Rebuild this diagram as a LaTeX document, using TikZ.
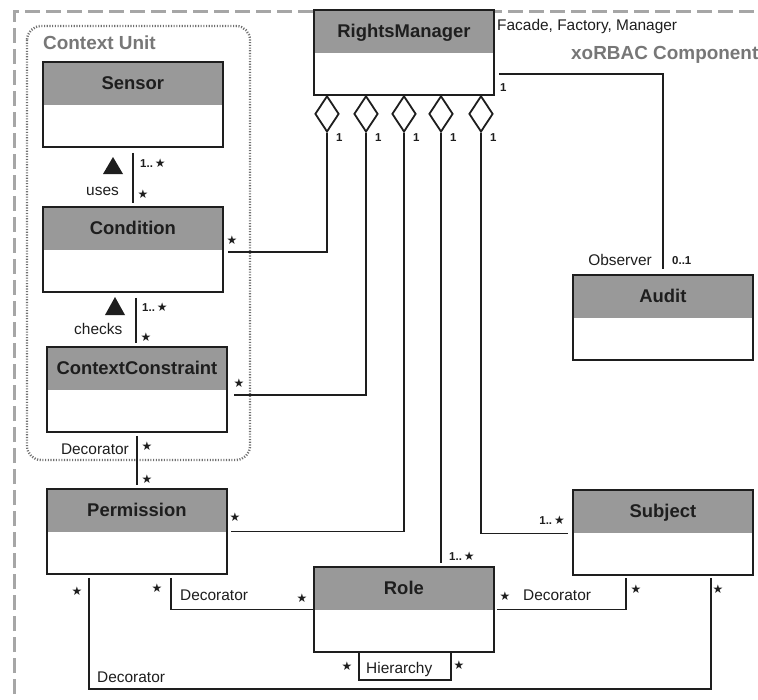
\documentclass[tikz,border=0pt]{standalone}
\usepackage{fontspec}
\setmainfont{Liberation Sans}
\newfontfamily\starfont{DejaVu Sans}
\usetikzlibrary{shapes.geometric}

\definecolor{hdr}{HTML}{999999}
\definecolor{ink}{HTML}{1E1E1E}
\definecolor{framegray}{HTML}{A6A6A6}
\definecolor{dotgray}{HTML}{707070}
\definecolor{labelgray}{HTML}{777777}

\newcommand\mstar{{\starfont\fontsize{12}{12}\selectfont ★}}

\tikzset{
  cls/.style={draw=ink, line width=1.8bp, fill=white, minimum width=180bp,
    minimum height=85bp, inner sep=0, anchor=north west,
    path picture={\fill[hdr] (path picture bounding box.north west)
      rectangle ([yshift=-43bp]path picture bounding box.north east);}},
  ttl/.style={font=\fontsize{18.5}{20}\selectfont\bfseries, text=ink, inner sep=0, anchor=base},
  conn/.style={draw=ink, line width=1.8bp},
  lbl/.style={font=\fontsize{15.5}{17}\selectfont, text=ink, inner sep=0},
  mult/.style={font=\fontsize{11.5}{13}\selectfont\bfseries, text=ink, inner sep=0},
  st/.style={font=\starfont\fontsize{12}{12}\selectfont, text=ink, inner sep=0},
  agg/.style={diamond, draw=ink, line width=1.8bp, fill=white, minimum width=24bp,
    minimum height=36bp, inner sep=0, anchor=north},
  grouplbl/.style={font=\fontsize{19}{21}\selectfont\bfseries, text=labelgray, inner sep=0},
}

\begin{document}
\begin{tikzpicture}[x=1bp,y=-1bp]
\useasboundingbox (0,0) rectangle (758,700);
\clip (0,0) rectangle (758,700);
\fill[white] (0,0) rectangle (758,700);

% component frame and context unit group
\draw[framegray, line width=3bp, dash pattern=on 15bp off 6bp] (14,715) -- (14,12) -- (775,12);
\draw[dotgray, line width=2.4bp, dash pattern=on 1.1bp off 1.6bp, rounded corners=14bp]
  (27,26) rectangle (250,460);
\node[grouplbl, anchor=base west] (cu) at (43,50) {Context Unit};
\node[grouplbl, anchor=base west] (comp) at (571,60) {xoRBAC Component};

% classes
\node[cls] (sensor) at (42,61) {};
\node[ttl] (sensorT) at ([yshift=-28.5bp]sensor.north) {Sensor};
\node[cls] (cond) at (42,206) {};
\node[ttl] (condT) at ([yshift=-28.5bp]cond.north) {Condition};
\node[cls] (cc) at (46,346) {};
\node[ttl] (ccT) at ([yshift=-28.5bp]cc.north) {ContextConstraint};
\node[cls] (perm) at (46,488) {};
\node[ttl] (permT) at ([yshift=-28.5bp]perm.north) {Permission};
\node[cls] (rm) at (313,9) {};
\node[ttl] (rmT) at ([yshift=-28.5bp]rm.north) {RightsManager};
\node[cls] (audit) at (572,274) {};
\node[ttl] (auditT) at ([yshift=-28.5bp]audit.north) {Audit};
\node[cls] (role) at (313,566) {};
\node[ttl] (roleT) at ([yshift=-28.5bp]role.north) {Role};
\node[cls] (subj) at (572,489) {};
\node[ttl] (subjT) at ([yshift=-28.5bp]subj.north) {Subject};

\node[lbl, anchor=base west] (stereo) at (497,31) {Facade, Factory, Manager};

% aggregation diamonds under RightsManager
\node[agg] (d1) at (327,95) {};
\node[agg] (d2) at (366,95) {};
\node[agg] (d3) at (404,95) {};
\node[agg] (d4) at (441,95) {};
\node[agg] (d5) at (481,95) {};
\foreach \d/\x in {d1/327,d2/366,d3/404,d4/441,d5/481}
  \node[mult, anchor=base west] (\d m) at (\x+9,142) {1};

% aggregations
\draw[conn] (d1.south) |- ([xshift=4bp,yshift=-2.5bp]cond.east);
\draw[conn] (d2.south) |- ([xshift=6bp,yshift=-5.5bp]cc.east);
\draw[conn] (d3.south) |- ([xshift=3bp]perm.east);
\draw[conn, shorten >=3bp] (d4.south) -- (d4.south |- role.north);
\draw[conn] (d5.south) |- ([xshift=-4bp,yshift=-1bp]subj.west);

% observer
\draw[conn, shorten >=5bp] ([xshift=4bp,yshift=-21.5bp]rm.east) -| (audit.north);
\node[mult, anchor=base west] (obs1) at (500,92) {1};
\node[lbl, anchor=base east] (obsL) at (652,265) {Observer};
\node[mult, anchor=base west] (obs2) at (672,264) {0..1};

% context unit associations
\draw[conn, shorten <=5bp, shorten >=3bp] (sensor.south) -- (cond.north);
\fill[ink] (103,174) -- (123,174) -- (113,157) -- cycle;
\node[lbl, anchor=base west] (uses) at (86,195) {uses};
\node[mult, anchor=base west] (m1) at (140,167) {1..\,\mstar};
\node[st] (s1) at (143,194) {★};

\coordinate (cc1) at ([xshift=3bp]cond.south);
\draw[conn, shorten <=5bp, shorten >=3bp] (cc1) -- (cc1 |- cc.north);
\fill[ink] (105,315) -- (125,315) -- (115,297) -- cycle;
\node[lbl, anchor=base west] (checks) at (74,334) {checks};
\node[mult, anchor=base west] (m2) at (142,311) {1..\,\mstar};
\node[st] (s2) at (146,337) {★};

\draw[conn, shorten <=3bp, shorten >=3bp] (cc.south) -- (perm.north);
\node[lbl, anchor=base east] (dec1) at (129,454) {Decorator};
\node[st] (s3) at (147,446) {★};
\node[st] (s4) at (147,479) {★};

% multiplicities at aggregation ends
\node[st] (s5) at (232,240) {★};
\node[st] (s6) at (239,383) {★};
\node[st] (s7) at (235,517) {★};
\node[mult, anchor=base west] (m3) at (449,560) {1..\,\mstar};
\node[mult, anchor=base east] (m4) at (565,524) {1..\,\mstar};

% decorators among permission, role and subject
\coordinate (pr) at ([xshift=34bp]perm.south);
\draw[conn, shorten <=3bp] (pr) |- (role.west);
\node[st] (s8) at (157,588) {★};
\node[lbl, anchor=base west] (dec2) at (180,600) {Decorator};
\node[st] (s9) at (302,598) {★};

\coordinate (ps1) at ([xshift=-48bp]perm.south);
\coordinate (ps2) at ([xshift=48bp]subj.south);
\coordinate (low) at (0,689);
\draw[conn, shorten <=3bp, shorten >=2bp] (ps1) -- (ps1 |- low) -| (ps2);
\node[st] (s10) at (77,591) {★};
\node[lbl, anchor=base west] (dec3) at (97,682) {Decorator};
\node[st] (s11) at (718,589) {★};

\coordinate (rs) at ([xshift=-37bp]subj.south);
\draw[conn, shorten >=2bp] ([xshift=2bp]role.east) -| (rs);
\node[st] (s12) at (505,596) {★};
\node[lbl, anchor=base west] (dec4) at (523,600) {Decorator};
\node[st] (s13) at (636,589) {★};

% role hierarchy
\coordinate (h1) at ([xshift=-45bp]role.south);
\coordinate (h2) at ([xshift=47bp]role.south);
\coordinate (hl) at (0,680);
\draw[conn] (h1) -- (h1 |- hl) -| (h2);
\node[st] (s14) at (347,666) {★};
\node[lbl, anchor=base west] (hier) at (366,673) {Hierarchy};
\node[st] (s15) at (459,665) {★};
\end{tikzpicture}
\end{document}
